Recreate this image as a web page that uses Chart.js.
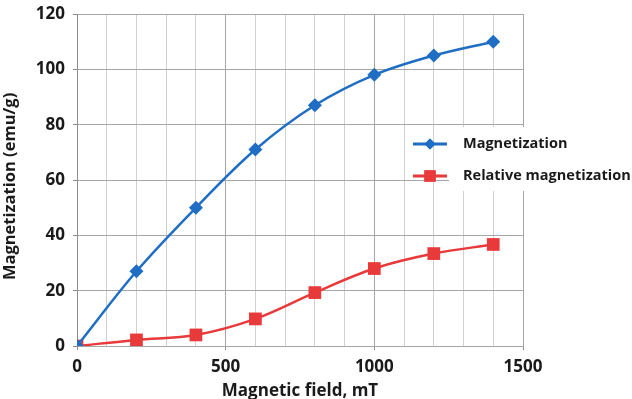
<!DOCTYPE html>
<html>
<head>
<meta charset="utf-8">
<script src="https://cdn.jsdelivr.net/npm/chart.js@4.4.0/dist/chart.umd.min.js"></script>
<style>
  html, body { margin:0; padding:0; background:#fff; }
  #wrap { width:632px; height:399px; position:relative; }
</style>
</head>
<body>
<div id="wrap"><canvas id="chart" width="632" height="399"></canvas></div>
<script>
// data
const fieldMT = [0, 200, 400, 600, 800, 1000, 1200, 1400];
const magnetization = [0, 27, 50, 71, 87, 98, 105, 110];
const relativeMag = [0, 2.2, 4, 9.8, 19.3, 28, 33.4, 36.7];

const BLUE = '#1f6ec4';
const RED = '#e8393b';
const INK = '#1a1a1a';
const FONT = "'Open Sans', sans-serif";

// legend drawn over the grid, text on a white patch
const boxLegend = {
  id: 'boxLegend',
  afterDraw(chart){
    const c = chart.ctx;
    c.save();
    c.fillStyle = '#fff';
    c.fillRect(449, 127, 183, 64);
    chart.data.datasets.forEach((d, i) => {
      const y = 144 + i * 32;
      c.strokeStyle = d.borderColor;
      c.lineWidth = 3;
      c.beginPath(); c.moveTo(413, y); c.lineTo(447, y); c.stroke();
      c.fillStyle = d.borderColor;
      Chart.helpers.drawPoint(c, { pointStyle: d.pointStyle, radius: i ? 8 : 5.5, borderWidth: 0, rotation: 0 }, 430, y);
      c.fill();
      c.fillStyle = INK;
      c.font = "bold 14.5px " + FONT;
      c.textBaseline = 'middle';
      c.fillText(d.label, 463, y);
    });
    c.restore();
  }
};

new Chart(document.getElementById('chart'), {
  type: 'line',
  data: {
    datasets: [
      { label: 'Magnetization', data: fieldMT.map((x, i) => ({ x, y: magnetization[i] })),
        borderColor: BLUE, backgroundColor: BLUE, borderWidth: 2.5, tension: 0.35,
        pointStyle: 'rectRot', pointRadius: 7, pointBorderWidth: 0 },
      { label: 'Relative magnetization', data: fieldMT.map((x, i) => ({ x, y: relativeMag[i] })),
        borderColor: RED, backgroundColor: RED, borderWidth: 2.5, tension: 0.35,
        pointStyle: 'rect', pointRadius: 9, pointBorderWidth: 0 }
    ]
  },
  options: {
    responsive: false,
    animation: false,
    layout: { padding: { top: 14, right: 109, left: 0, bottom: 0 } },
    plugins: { legend: { display: false }, tooltip: { enabled: false } },
    scales: {
      x: {
        type: 'linear', min: 0, max: 1500,
        afterFit: s => { s.height = 53; },
        grid: { color: c => c.tick.value % 500 === 0 ? '#a6a6a6' : '#d0d0d0', lineWidth: 1,
          tickLength: 4, tickColor: c => c.tick.value % 500 === 0 ? '#8c8c8c' : 'rgba(0,0,0,0)' },
        border: { color: '#a6a6a6' },
        ticks: { stepSize: 100, autoSkip: false, maxRotation: 0, padding: 7, color: INK,
          font: { family: FONT, size: 17, weight: 'bold' },
          callback: v => v % 500 === 0 ? v : '' },
        title: { display: true, text: 'Magnetic field, mT', color: INK, padding: { top: 0, bottom: -2 },
          font: { family: FONT, size: 17, weight: 'bold' } }
      },
      y: {
        min: 0, max: 120,
        afterFit: s => { s.width = 77; s.paddingTop = 0; s.paddingBottom = 0; },
        grid: { color: '#a6a6a6', lineWidth: 1, tickLength: 4, tickColor: '#8c8c8c' },
        border: { color: '#8c8c8c' },
        ticks: { stepSize: 20, padding: 8, color: INK,
          font: { family: FONT, size: 17, weight: 'bold' } },
        title: { display: true, text: 'Magnetization (emu/g)   ', color: INK, padding: 0,
          font: { family: FONT, size: 16.5, weight: 'bold' } }
      }
    }
  },
  plugins: [boxLegend]
});
</script>
</body>
</html>
